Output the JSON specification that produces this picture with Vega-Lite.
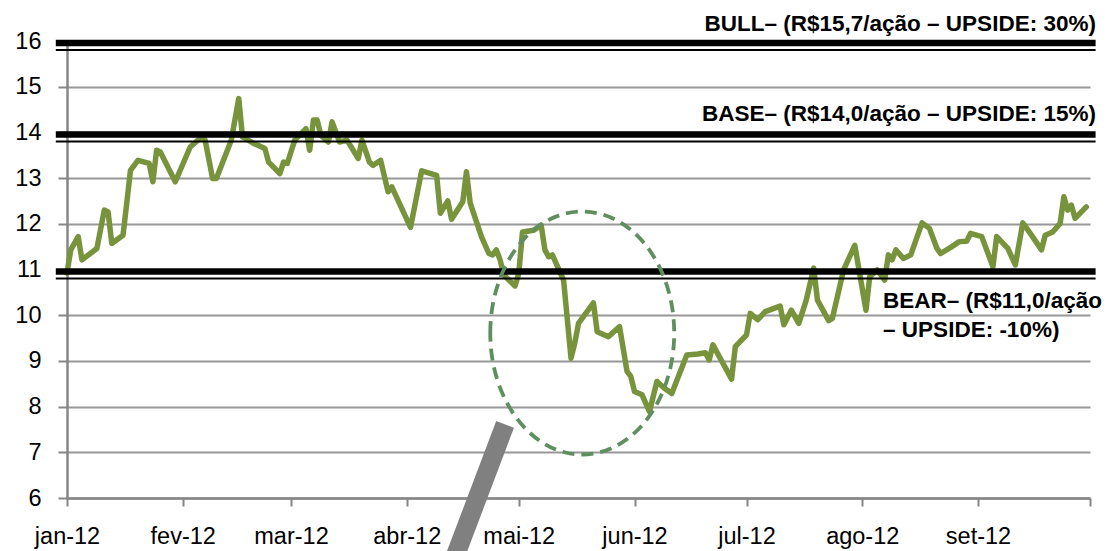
{
  "$schema": "https://vega.github.io/schema/vega-lite/v6.json",
  "width": 1023,
  "height": 457,
  "autosize": {"type": "none"},
  "padding": {"left": 67, "top": 41, "right": 22, "bottom": 53},
  "background": "white",
  "config": {"view": {"stroke": null}, "font": "Liberation Sans"},
  "datasets": {
    "price": [
      {"date":"2012-01-01","price":10.92},{"date":"2012-01-02","price":11.43},{"date":"2012-01-04","price":11.72},{"date":"2012-01-05","price":11.21},
      {"date":"2012-01-09","price":11.46},{"date":"2012-01-11","price":12.30},{"date":"2012-01-12","price":12.26},{"date":"2012-01-13","price":11.57},
      {"date":"2012-01-16","price":11.75},{"date":"2012-01-17","price":12.45},{"date":"2012-01-18","price":13.17},{"date":"2012-01-20","price":13.39},
      {"date":"2012-01-23","price":13.32},{"date":"2012-01-24","price":12.92},{"date":"2012-01-25","price":13.61},{"date":"2012-01-26","price":13.57},
      {"date":"2012-01-30","price":12.92},{"date":"2012-02-03","price":13.68},{"date":"2012-02-06","price":13.90},{"date":"2012-02-07","price":13.83},
      {"date":"2012-02-09","price":12.99},{"date":"2012-02-10","price":12.99},{"date":"2012-02-14","price":13.83},{"date":"2012-02-16","price":14.74},
      {"date":"2012-02-17","price":13.90},{"date":"2012-02-20","price":13.76},{"date":"2012-02-23","price":13.65},{"date":"2012-02-24","price":13.35},
      {"date":"2012-02-27","price":13.10},{"date":"2012-02-28","price":13.35},{"date":"2012-02-29","price":13.32},{"date":"2012-03-02","price":13.83},
      {"date":"2012-03-05","price":14.08},{"date":"2012-03-06","price":13.61},{"date":"2012-03-07","price":14.27},{"date":"2012-03-08","price":14.27},
      {"date":"2012-03-09","price":13.94},{"date":"2012-03-11","price":13.79},{"date":"2012-03-12","price":14.23},{"date":"2012-03-14","price":13.79},
      {"date":"2012-03-16","price":13.83},{"date":"2012-03-19","price":13.43},{"date":"2012-03-20","price":13.83},{"date":"2012-03-22","price":13.35},
      {"date":"2012-03-23","price":13.28},{"date":"2012-03-25","price":13.39},{"date":"2012-03-27","price":12.70},{"date":"2012-03-28","price":12.81},
      {"date":"2012-04-02","price":11.92},{"date":"2012-04-05","price":13.16},{"date":"2012-04-09","price":13.06},{"date":"2012-04-10","price":12.23},
      {"date":"2012-04-12","price":12.50},{"date":"2012-04-13","price":12.10},{"date":"2012-04-16","price":12.48},{"date":"2012-04-17","price":13.14},
      {"date":"2012-04-18","price":12.45},{"date":"2012-04-21","price":11.72},{"date":"2012-04-23","price":11.35},{"date":"2012-04-24","price":11.32},
      {"date":"2012-04-25","price":11.43},{"date":"2012-04-26","price":11.21},{"date":"2012-04-27","price":10.88},{"date":"2012-04-30","price":10.64},
      {"date":"2012-05-01","price":10.92},{"date":"2012-05-02","price":11.82},{"date":"2012-05-05","price":11.86},{"date":"2012-05-07","price":11.97},
      {"date":"2012-05-08","price":11.43},{"date":"2012-05-09","price":11.28},{"date":"2012-05-10","price":11.32},{"date":"2012-05-13","price":10.77},
      {"date":"2012-05-15","price":9.06},{"date":"2012-05-16","price":9.39},{"date":"2012-05-17","price":9.82},{"date":"2012-05-21","price":10.27},
      {"date":"2012-05-22","price":9.64},{"date":"2012-05-25","price":9.53},{"date":"2012-05-28","price":9.75},{"date":"2012-05-30","price":8.77},
      {"date":"2012-05-31","price":8.66},{"date":"2012-06-01","price":8.33},{"date":"2012-06-03","price":8.26},{"date":"2012-06-05","price":7.89},
      {"date":"2012-06-07","price":8.55},{"date":"2012-06-09","price":8.40},{"date":"2012-06-11","price":8.29},{"date":"2012-06-15","price":9.13},
      {"date":"2012-06-18","price":9.15},{"date":"2012-06-20","price":9.18},{"date":"2012-06-21","price":9.02},{"date":"2012-06-22","price":9.35},
      {"date":"2012-06-27","price":8.60},{"date":"2012-06-28","price":9.31},{"date":"2012-07-01","price":9.57},{"date":"2012-07-02","price":10.04},
      {"date":"2012-07-04","price":9.90},{"date":"2012-07-06","price":10.08},{"date":"2012-07-10","price":10.20},{"date":"2012-07-11","price":9.79},
      {"date":"2012-07-13","price":10.11},{"date":"2012-07-15","price":9.82},{"date":"2012-07-17","price":10.33},{"date":"2012-07-19","price":11.03},
      {"date":"2012-07-20","price":10.33},{"date":"2012-07-23","price":9.88},{"date":"2012-07-24","price":9.93},{"date":"2012-07-27","price":10.99},
      {"date":"2012-07-30","price":11.53},{"date":"2012-08-02","price":10.11},{"date":"2012-08-03","price":10.84},{"date":"2012-08-05","price":10.99},
      {"date":"2012-08-07","price":10.77},{"date":"2012-08-08","price":11.32},{"date":"2012-08-09","price":11.21},{"date":"2012-08-10","price":11.43},
      {"date":"2012-08-12","price":11.24},{"date":"2012-08-14","price":11.32},{"date":"2012-08-17","price":12.02},{"date":"2012-08-19","price":11.90},
      {"date":"2012-08-21","price":11.46},{"date":"2012-08-22","price":11.35},{"date":"2012-08-25","price":11.50},{"date":"2012-08-27","price":11.61},
      {"date":"2012-08-29","price":11.62},{"date":"2012-08-30","price":11.79},{"date":"2012-09-02","price":11.72},{"date":"2012-09-05","price":11.06},
      {"date":"2012-09-06","price":11.72},{"date":"2012-09-09","price":11.46},{"date":"2012-09-11","price":11.10},{"date":"2012-09-13","price":12.02},
      {"date":"2012-09-15","price":11.79},{"date":"2012-09-18","price":11.43},{"date":"2012-09-19","price":11.75},{"date":"2012-09-21","price":11.82},
      {"date":"2012-09-23","price":12.01},{"date":"2012-09-24","price":12.59},{"date":"2012-09-25","price":12.30},{"date":"2012-09-26","price":12.41},
      {"date":"2012-09-27","price":12.12},{"date":"2012-09-30","price":12.37}
    ],
    "levels": [
      {"cenario": "BULL", "nivel": 16},
      {"cenario": "BASE", "nivel": 14},
      {"cenario": "BEAR", "nivel": 11}
    ]
  },
  "layer": [
    {
      "data": {"name": "price"},
      "mark": {"type": "line", "color": "#77933C", "strokeWidth": 5.5, "strokeJoin": "round", "strokeCap": "round"},
      "encoding": {
        "x": {
          "field": "date", "type": "temporal",
          "scale": {"type": "utc", "domain": [{"year": 2012, "month": 1, "date": 1, "utc": true}, {"year": 2012, "month": 10, "date": 1, "utc": true}]},
          "axis": {
            "title": null, "grid": false,
            "values": [
              {"year": 2012, "month": 1, "date": 1, "utc": true}, {"year": 2012, "month": 2, "date": 1, "utc": true},
              {"year": 2012, "month": 3, "date": 1, "utc": true}, {"year": 2012, "month": 4, "date": 1, "utc": true},
              {"year": 2012, "month": 5, "date": 1, "utc": true}, {"year": 2012, "month": 6, "date": 1, "utc": true},
              {"year": 2012, "month": 7, "date": 1, "utc": true}, {"year": 2012, "month": 8, "date": 1, "utc": true},
              {"year": 2012, "month": 9, "date": 1, "utc": true}, {"year": 2012, "month": 10, "date": 1, "utc": true}
            ],
            "labelExpr": "utcmonth(datum.value) == 9 ? '' : ['jan','fev','mar','abr','mai','jun','jul','ago','set','out','nov','dez'][utcmonth(datum.value)] + '-' + utcFormat(datum.value, '%y')",
            "domainColor": "#868686", "domainWidth": 2.5,
            "tickColor": "#868686", "tickWidth": 2, "tickSize": 8,
            "labelFont": "Liberation Sans", "labelFontSize": 23.5, "labelColor": "#000000", "labelPadding": 18,
            "labelOverlap": false, "labelFlush": false, "labelBound": false
          }
        },
        "y": {
          "field": "price", "type": "quantitative",
          "scale": {"domain": [6, 16], "nice": false, "zero": false},
          "axis": {
            "title": null, "values": [6, 7, 8, 9, 10, 11, 12, 13, 14, 15, 16],
            "grid": true, "gridColor": "#979797", "gridWidth": 2,
            "domainColor": "#868686", "domainWidth": 2.5,
            "tickColor": "#868686", "tickWidth": 2, "tickSize": 9,
            "labelFont": "Liberation Sans", "labelFontSize": 23.5, "labelColor": "#000000", "labelPadding": 17,
            "labelOverlap": false, "labelFlush": false, "labelBound": false
          }
        }
      }
    },
    {
      "data": {"name": "levels"},
      "mark": {"type": "rule", "color": "#000000", "strokeWidth": 6.5, "yOffset": 2, "strokeCap": "butt"},
      "encoding": {
        "y": {"field": "nivel", "type": "quantitative"},
        "x": {"datum": {"year": 2011, "month": 12, "date": 29, "utc": true}, "type": "temporal"},
        "x2": {"datum": {"year": 2012, "month": 10, "date": 2, "hours": 12, "utc": true}}
      }
    },
    {
      "data": {"name": "levels"},
      "mark": {"type": "rule", "color": "#000000", "strokeWidth": 2, "yOffset": 9, "strokeCap": "butt"},
      "encoding": {
        "y": {"field": "nivel", "type": "quantitative"},
        "x": {"datum": {"year": 2011, "month": 12, "date": 29, "utc": true}, "type": "temporal"},
        "x2": {"datum": {"year": 2012, "month": 10, "date": 2, "hours": 12, "utc": true}}
      }
    },
    {
      "data": {"values": [{"destaque": "queda mai-jun"}]},
      "mark": {
        "type": "point",
        "shape": "M -0.757 0 A 0.757 1 0 1 1 0.757 0 A 0.757 1 0 1 1 -0.757 0 Z",
        "size": 59049, "filled": false, "stroke": "#5f8e5f", "strokeWidth": 3.8,
        "strokeDash": [12, 7], "opacity": 1
      },
      "encoding": {
        "x": {"datum": {"year": 2012, "month": 5, "date": 18, "utc": true}, "type": "temporal"},
        "y": {"datum": 9.61, "type": "quantitative"}
      }
    },
    {
      "data": {"values": [{"destaque": "seta"}]},
      "mark": {"type": "rule", "color": "#808080", "strokeWidth": 19, "strokeCap": "butt"},
      "encoding": {
        "x": {"datum": {"year": 2012, "month": 4, "date": 27, "hours": 8, "utc": true}, "type": "temporal"},
        "y": {"datum": 7.61, "type": "quantitative"},
        "x2": {"datum": {"year": 2012, "month": 4, "date": 11, "hours": 13, "utc": true}},
        "y2": {"datum": 4.2}
      }
    },
    {
      "data": {"values": [{"cenario": "BULL"}]},
      "mark": {"type": "text", "text": "BULL– (R$15,7/ação – UPSIDE: 30%)", "font": "Liberation Sans", "fontWeight": "bold", "fontSize": 22.5, "align": "right", "baseline": "alphabetic", "color": "#000000"},
      "encoding": {
        "x": {"datum": {"year": 2012, "month": 10, "date": 2, "hours": 14, "utc": true}, "type": "temporal"},
        "y": {"datum": 16.21, "type": "quantitative"}
      }
    },
    {
      "data": {"values": [{"cenario": "BASE"}]},
      "mark": {"type": "text", "text": "BASE– (R$14,0/ação – UPSIDE: 15%)", "font": "Liberation Sans", "fontWeight": "bold", "fontSize": 22.5, "align": "right", "baseline": "alphabetic", "color": "#000000"},
      "encoding": {
        "x": {"datum": {"year": 2012, "month": 10, "date": 2, "hours": 14, "utc": true}, "type": "temporal"},
        "y": {"datum": 14.25, "type": "quantitative"}
      }
    },
    {
      "data": {"values": [{"cenario": "BEAR"}]},
      "mark": {"type": "text", "text": ["BEAR– (R$11,0/ação", "– UPSIDE: -10%)"], "lineHeight": 28.5, "font": "Liberation Sans", "fontWeight": "bold", "fontSize": 22.5, "align": "left", "baseline": "alphabetic", "color": "#000000"},
      "encoding": {
        "x": {"datum": {"year": 2012, "month": 8, "date": 6, "hours": 14, "utc": true}, "type": "temporal"},
        "y": {"datum": 10.15, "type": "quantitative"}
      }
    }
  ]
}
